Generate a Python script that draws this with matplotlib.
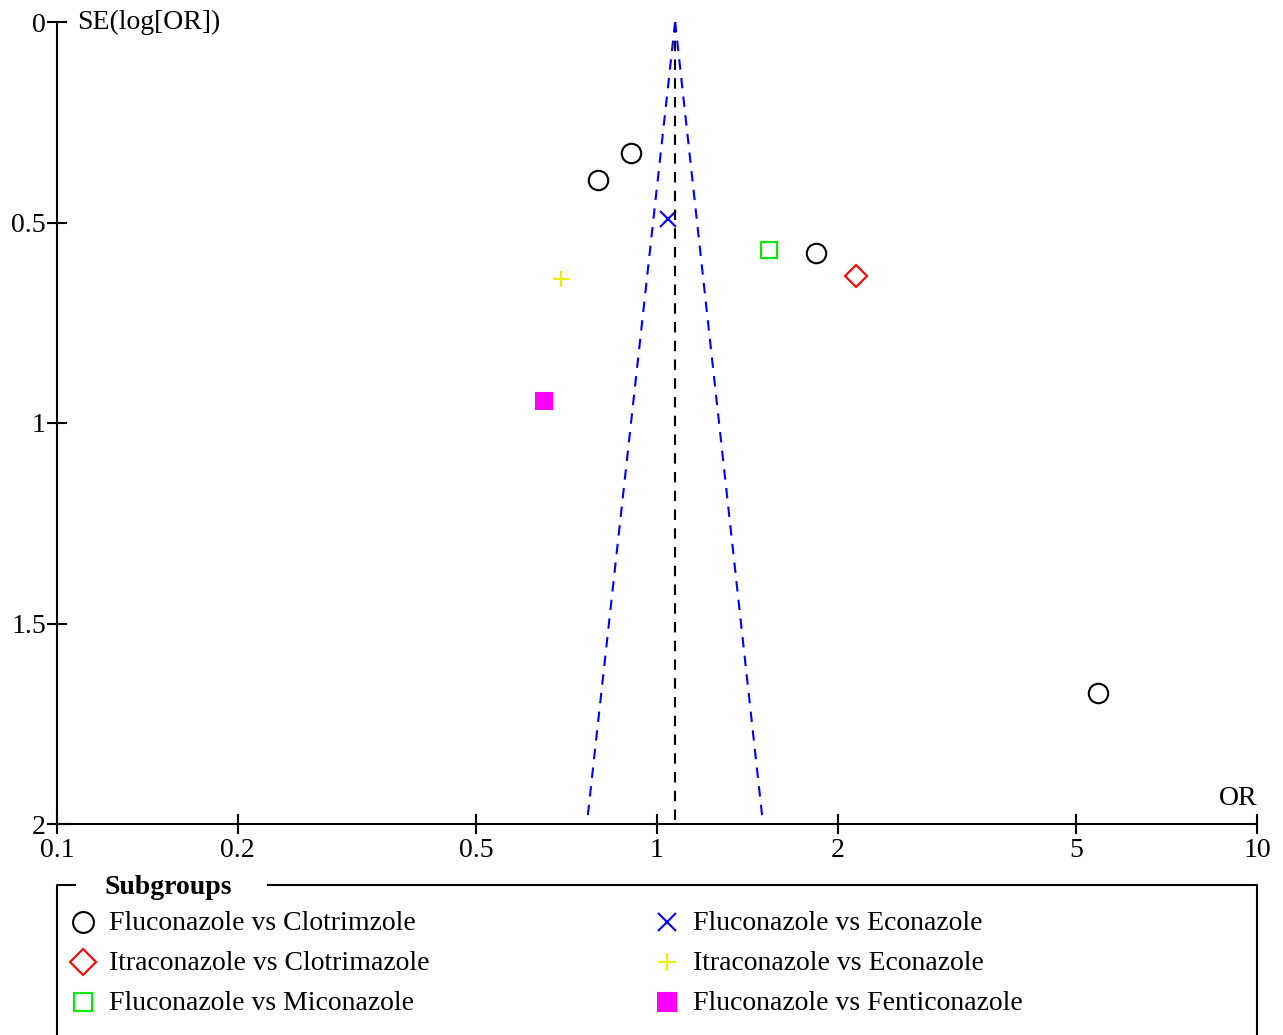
import matplotlib
matplotlib.use("Agg")
import matplotlib.pyplot as plt
from matplotlib.lines import Line2D

plt.rcParams['font.family'] = ['Liberation Serif', 'DejaVu Serif']

# study estimates: odds ratio and SE(log OR), per subgroup
groups = ['Fluconazole vs Clotrimzole', 'Itraconazole vs Clotrimazole', 'Fluconazole vs Miconazole',
          'Fluconazole vs Econazole', 'Itraconazole vs Econazole', 'Fluconazole vs Fenticonazole']
or_vals = [[0.905, 0.797, 1.841, 5.43], [2.147], [1.537], [1.043], [0.692], [0.648]]
se_vals = [[0.327, 0.394, 0.576, 1.673], [0.633], [0.569], [0.491], [0.641], [0.945]]

# marker style per subgroup
markers = ['o', 'D', 's', 'x', '+', 's']
colors = ['black', 'red', '#00ee00', 'blue', '#eeee00', 'magenta']
filled = [False, False, False, False, False, True]
sizes = [14, 11, 12, 12, 12, 12]

# pooled estimate and funnel limits
pooled_or = 1.072
funnel_se = [0, 2]
funnel_lo = [1.072, 0.764]
funnel_hi = [1.072, 1.502]

W, H = 1283, 1035
FS = 20
fig = plt.figure(figsize=(W / 100, H / 100), dpi=100)
ax = fig.add_axes([57 / W, 1 - 824 / H, 1200 / W, 802 / H])

for i in range(len(groups)):
    mfc = colors[i] if filled[i] else 'none'
    ax.plot(or_vals[i], se_vals[i], linestyle='none', marker=markers[i], markersize=sizes[i],
            markeredgecolor=colors[i], markerfacecolor=mfc, markeredgewidth=1.5, clip_on=False)

ax.plot([pooled_or, pooled_or], funnel_se, color='black', linestyle=(0, (5, 4)), linewidth=1.5)
ax.plot(funnel_lo, funnel_se, color='blue', linestyle=(0, (5, 4)), linewidth=1.5)
ax.plot(funnel_hi, funnel_se, color='blue', linestyle=(0, (5, 4)), linewidth=1.5)

ax.set_xscale('log')
ax.set_xlim(0.1, 10)
ax.set_ylim(2, 0)
ax.set_xticks([0.1, 0.2, 0.5, 1, 2, 5, 10])
ax.set_xticklabels(['0.1', '0.2', '0.5', '1', '2', '5', '10'])
ax.minorticks_off()
ax.set_yticks([0, 0.5, 1, 1.5, 2])
ax.set_yticklabels(['0', '0.5', '1', '1.5', '2'])
ax.tick_params(direction='inout', length=14, width=1.5, labelsize=FS, pad=1)
ax.tick_params(axis='x', pad=3)
ax.spines['top'].set_visible(False)
ax.spines['right'].set_visible(False)
ax.spines['left'].set_linewidth(1.5)
ax.spines['bottom'].set_linewidth(1.5)

ax.text(20 / 1200, 1.0, 'SE(log[OR])', transform=ax.transAxes, fontsize=FS, ha='left', va='center')
ax.text(1.0, 0.016, 'OR', transform=ax.transAxes, fontsize=FS, ha='right', va='bottom')

# legend frame, open at the bottom
def fx(px):
    return px / W

def fy(py):
    return 1 - py / H

fig.add_artist(Line2D([fx(75), fx(57), fx(57)], [fy(885), fy(885), fy(1040)], color='black', lw=1.5))
fig.add_artist(Line2D([fx(268), fx(1257), fx(1257)], [fy(885), fy(885), fy(1040)], color='black', lw=1.5))
fig.text(fx(105), fy(888), 'Subgroups', fontsize=FS, fontweight='bold', ha='left', va='center')

rows = [922, 962, 1002]
for k in range(len(groups)):
    col = k // 3
    mx = 83 if col == 0 else 667
    tx = 109 if col == 0 else 693
    y = rows[k % 3]
    mfc = colors[k] if filled[k] else 'none'
    fig.add_artist(Line2D([fx(mx)], [fy(y)], linestyle='none', marker=markers[k],
                          markersize=sizes[k] + 2 if markers[k] == 'D' else sizes[k] + 1,
                          markeredgecolor=colors[k], markerfacecolor=mfc, markeredgewidth=1.5))
    fig.text(fx(tx), fy(y + 2), groups[k], fontsize=FS, ha='left', va='center')

fig.savefig('out.png', dpi=100)
